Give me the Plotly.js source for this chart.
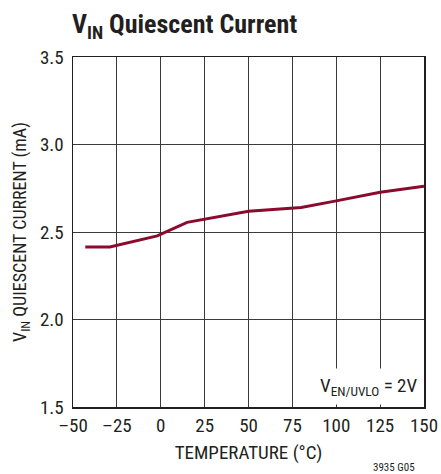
<!DOCTYPE html>
<html><head><meta charset="utf-8">
<script src="https://cdn.plot.ly/plotly-3.0.1.min.js"></script>
<style>body{margin:0;padding:0;background:#fff}#chart{width:441px;height:474px}</style>
</head><body><div id="chart"></div>
<script>
const temperature = [-43, -29, -2, 15, 50, 80, 100, 125, 150];
const current = [2.415, 2.415, 2.478, 2.555, 2.618, 2.64, 2.678, 2.727, 2.762];
const xTicks = [-50, -25, 0, 25, 50, 75, 100, 125, 150];
const yTicks = [1.5, 2.0, 2.5, 3.0, 3.5];
const FONT = '"Liberation Sans Narrow", "Roboto Condensed", "DejaVu Sans Condensed", sans-serif';

const trace = {
  x: temperature, y: current, type: 'scatter', mode: 'lines',
  line: {color: '#8a0b2e', width: 3}, hoverinfo: 'none'
};
const layout = {
  width: 441, height: 474,
  margin: {l: 73, r: 17, t: 57, b: 67},
  paper_bgcolor: '#fff', plot_bgcolor: '#fff',
  font: {family: FONT, size: 19, color: '#231f20'},
  showlegend: false,
  title: {text: '<b>V<sub>IN</sub> Quiescent Current</b>', font: {family: FONT, size: 26, color: '#231f20'},
          x: 72/441, xanchor: 'left', xref: 'container', y: 1 - 24/474, yanchor: 'middle', yref: 'container'},
  xaxis: {
    range: [-50, 150], tickmode: 'array', tickvals: xTicks, ticktext: xTicks.map(v => v < 0 ? '\u2013' + Math.abs(v) : String(v)),
    showgrid: true, gridcolor: '#3a3a3a', gridwidth: 1, zeroline: false,
    showline: true, linecolor: '#231f20', linewidth: 1.5, mirror: true, ticks: '',
    tickfont: {size: 19}, ticklabelstandoff: 1,
    title: {text: 'TEMPERATURE (°C)', font: {size: 19}, standoff: 9}
  },
  yaxis: {
    range: [1.5, 3.5], tickmode: 'array', tickvals: yTicks, ticktext: yTicks.map(v => v.toFixed(1)),
    showgrid: true, gridcolor: '#3a3a3a', gridwidth: 1, zeroline: false,
    showline: true, linecolor: '#231f20', linewidth: 1.5, mirror: true, ticks: '',
    tickfont: {size: 19}, ticklabelstandoff: 4,
    title: {text: 'V<sub>IN</sub> QUIESCENT CURRENT (mA)', font: {size: 18}, standoff: 8}
  },
  annotations: [
    {text: 'V<sub>EN/UVLO</sub> = 2V', xref: 'paper', yref: 'paper', x: 1, y: 0.005, xanchor: 'right', yanchor: 'bottom',
     showarrow: false, bgcolor: '#fff', font: {size: 19}, borderpad: 5, xshift: -1},
    {text: '3935 G05', xref: 'paper', yref: 'paper', x: 1, y: 0, xanchor: 'right', yanchor: 'top',
     showarrow: false, font: {size: 11}, yshift: -52, xshift: -7}
  ]
};
Plotly.newPlot('chart', [trace], layout, {staticPlot: true, displayModeBar: false});
</script></body></html>
